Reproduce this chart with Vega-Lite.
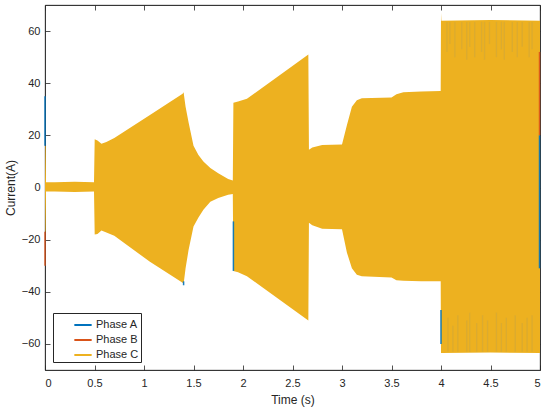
{
  "$schema": "https://vega.github.io/schema/vega-lite/v6.json",
  "width": 495,
  "height": 365,
  "autosize": {"type": "none"},
  "padding": {"left": 45, "top": 5, "right": 10, "bottom": 45},
  "background": "white",
  "datasets": {
    "env": [
      {"t": 0.0, "hi": 16, "lo": -17},
      {"t": 0.006, "hi": 16, "lo": -17},
      {"t": 0.01, "hi": 2, "lo": -1.5},
      {"t": 0.1, "hi": 2, "lo": -1.5},
      {"t": 0.3, "hi": 2.2, "lo": -1.7},
      {"t": 0.495, "hi": 2, "lo": -1.5},
      {"t": 0.502, "hi": 18.5, "lo": -18},
      {"t": 0.53, "hi": 18, "lo": -17.8},
      {"t": 0.57, "hi": 16.8, "lo": -16.5},
      {"t": 0.62, "hi": 17.5, "lo": -17.3},
      {"t": 0.7, "hi": 19, "lo": -18.5},
      {"t": 1.06, "hi": 27.8, "lo": -28.5},
      {"t": 1.39, "hi": 36, "lo": -36.5},
      {"t": 1.4, "hi": 36.5, "lo": -37},
      {"t": 1.42, "hi": 31, "lo": -31},
      {"t": 1.45, "hi": 25, "lo": -24},
      {"t": 1.5, "hi": 16, "lo": -15},
      {"t": 1.55, "hi": 12.5, "lo": -11.5},
      {"t": 1.6, "hi": 10, "lo": -8.5},
      {"t": 1.67, "hi": 7.5, "lo": -5.5},
      {"t": 1.75, "hi": 5.5, "lo": -4},
      {"t": 1.85, "hi": 3.3, "lo": -2.8},
      {"t": 1.897, "hi": 2.7, "lo": -2.5},
      {"t": 1.903, "hi": 32.5, "lo": -32},
      {"t": 1.95, "hi": 33, "lo": -32.5},
      {"t": 2.04, "hi": 34, "lo": -34},
      {"t": 2.66, "hi": 51, "lo": -51},
      {"t": 2.666, "hi": 14.5, "lo": -13.5},
      {"t": 2.7, "hi": 15.3, "lo": -14.5},
      {"t": 2.8, "hi": 16.3, "lo": -15.8},
      {"t": 3.0, "hi": 16.5, "lo": -16},
      {"t": 3.05, "hi": 24, "lo": -25},
      {"t": 3.1, "hi": 31, "lo": -31},
      {"t": 3.15, "hi": 33.5, "lo": -33.5},
      {"t": 3.2, "hi": 34.2, "lo": -34},
      {"t": 3.5, "hi": 34.5, "lo": -34.5},
      {"t": 3.55, "hi": 35.8, "lo": -35.6},
      {"t": 3.62, "hi": 36.5, "lo": -35.8},
      {"t": 3.8, "hi": 36.8, "lo": -36},
      {"t": 3.997, "hi": 37, "lo": -36},
      {"t": 4.0, "hi": 67, "lo": -63.5},
      {"t": 4.004, "hi": 64, "lo": -63.5},
      {"t": 4.5, "hi": 64.2, "lo": -63.3},
      {"t": 5.0, "hi": 64, "lo": -63.5}
    ],
    "streaks": [
      {"t": 4.06, "y1": 63.5, "y2": 52},
      {"t": 4.09, "y1": 63.5, "y2": 55},
      {"t": 4.14, "y1": 63.5, "y2": 50},
      {"t": 4.21, "y1": 63.5, "y2": 53},
      {"t": 4.26, "y1": 63.5, "y2": 49},
      {"t": 4.29, "y1": 63.5, "y2": 54},
      {"t": 4.34, "y1": 63.5, "y2": 50},
      {"t": 4.41, "y1": 63.5, "y2": 52},
      {"t": 4.44, "y1": 63.5, "y2": 49},
      {"t": 4.49, "y1": 63.5, "y2": 55},
      {"t": 4.56, "y1": 63.5, "y2": 50},
      {"t": 4.61, "y1": 63.5, "y2": 53},
      {"t": 4.64, "y1": 63.5, "y2": 49},
      {"t": 4.72, "y1": 63.5, "y2": 52},
      {"t": 4.77, "y1": 63.5, "y2": 50},
      {"t": 4.82, "y1": 63.5, "y2": 54},
      {"t": 4.89, "y1": 63.5, "y2": 50},
      {"t": 4.92, "y1": 63.5, "y2": 53},
      {"t": 4.07, "y1": -63, "y2": -50},
      {"t": 4.12, "y1": -63, "y2": -53},
      {"t": 4.17, "y1": -63, "y2": -49},
      {"t": 4.26, "y1": -63, "y2": -51},
      {"t": 4.29, "y1": -63, "y2": -48},
      {"t": 4.36, "y1": -63, "y2": -52},
      {"t": 4.42, "y1": -63, "y2": -49},
      {"t": 4.47, "y1": -63, "y2": -51},
      {"t": 4.56, "y1": -63, "y2": -48},
      {"t": 4.61, "y1": -63, "y2": -52},
      {"t": 4.66, "y1": -63, "y2": -50},
      {"t": 4.75, "y1": -63, "y2": -49},
      {"t": 4.82, "y1": -63, "y2": -52},
      {"t": 4.87, "y1": -63, "y2": -50},
      {"t": 4.92, "y1": -63, "y2": -49}
    ],
    "edges": [
      {"phase": "Phase A", "t": 0.0, "y1": 16, "y2": 35},
      {"phase": "Phase B", "t": 0.0, "y1": -17, "y2": -30},
      {"phase": "Phase A", "t": 1.4, "y1": -36, "y2": -37.5},
      {"phase": "Phase A", "t": 1.903, "y1": -13, "y2": -32},
      {"phase": "Phase A", "t": 4.0, "y1": -47, "y2": -60},
      {"phase": "Phase B", "t": 4.995, "y1": 20, "y2": 52},
      {"phase": "Phase A", "t": 4.995, "y1": -31, "y2": 20}
    ]
  },
  "layer": [
    {
      "data": {"name": "env"},
      "mark": {"type": "area", "interpolate": "linear", "opacity": 1},
      "encoding": {
        "x": {
          "field": "t", "type": "quantitative",
          "scale": {"domain": [0, 5], "nice": false, "zero": false},
          "axis": {"orient": "bottom", "title": "Time (s)", "values": [0, 0.5, 1, 1.5, 2, 2.5, 3, 3.5, 4, 4.5, 5], "format": "~g", "grid": false, "labelPadding": 12, "titlePadding": 6}
        },
        "y": {
          "field": "hi", "type": "quantitative",
          "scale": {"domain": [-70, 70], "nice": false, "zero": false},
          "axis": {"orient": "left", "title": "Current(A)", "values": [-60, -40, -20, 0, 20, 40, 60], "grid": false, "labelPadding": 10, "titlePadding": 4}
        },
        "y2": {"field": "lo"},
        "color": {
          "datum": "Phase C", "type": "nominal",
          "scale": {"domain": ["Phase A", "Phase B", "Phase C"], "range": ["#0072BD", "#D95319", "#EDB120"]},
          "legend": {
            "orient": "none", "legendX": 8, "legendY": 308, "title": null,
            "symbolType": "stroke", "symbolSize": 300, "symbolStrokeWidth": 2,
            "symbolOffset": 18, "labelOffset": 3,
            "strokeColor": "#262626", "fillColor": "white", "padding": 2,
            "labelFontSize": 11, "rowPadding": -6, "labelColor": "#262626"
          }
        }
      }
    },
    {
      "data": {"name": "streaks"},
      "mark": {"type": "rule", "color": "#c9a53f", "opacity": 0.5, "strokeWidth": 1.3},
      "encoding": {
        "x": {"field": "t", "type": "quantitative", "axis": {"orient": "top", "labels": false, "title": null, "values": [0, 0.5, 1, 1.5, 2, 2.5, 3, 3.5, 4, 4.5, 5], "grid": false}},
        "y": {"field": "y1", "type": "quantitative", "axis": {"orient": "right", "labels": false, "title": null, "values": [-60, -40, -20, 0, 20, 40, 60], "grid": false}},
        "y2": {"field": "y2"}
      }
    },
    {
      "data": {"name": "edges"},
      "mark": {"type": "rule", "strokeWidth": 1.5, "opacity": 0.9},
      "encoding": {
        "x": {"field": "t", "type": "quantitative", "axis": null},
        "y": {"field": "y1", "type": "quantitative", "axis": null},
        "y2": {"field": "y2"},
        "color": {"field": "phase", "type": "nominal", "legend": null}
      }
    }
  ],
  "resolve": {"axis": {"x": "independent", "y": "independent"}},
  "config": {
    "font": "Liberation Sans",
    "view": {"stroke": "#262626", "strokeWidth": 0.8},
    "axis": {
      "domainColor": "#262626", "domainWidth": 0.8,
      "tickColor": "#262626", "tickWidth": 0.8, "tickSize": -5,
      "labelColor": "#262626", "labelFontSize": 11, "labelPadding": 5,
      "titleColor": "#262626", "titleFontSize": 12, "titleFontWeight": "normal"
    }
  }
}
